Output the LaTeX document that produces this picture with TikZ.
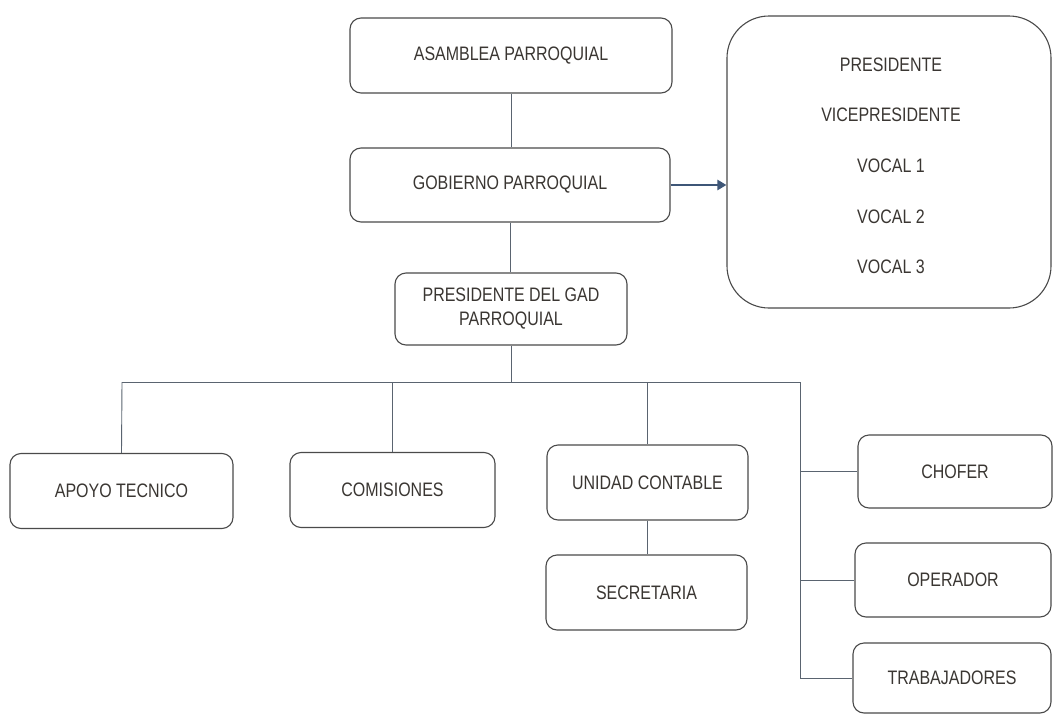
\documentclass[tikz,border=0pt]{standalone}
\usepackage{fontspec}
\setmainfont{Liberation Sans}[FakeStretch=0.82]
\usetikzlibrary{arrows.meta}
\definecolor{ink}{HTML}{3A3632}
\definecolor{edge}{HTML}{4A4A4A}
\definecolor{conn}{HTML}{5A6470}
\definecolor{arr}{HTML}{3E5677}
\begin{document}
\begin{tikzpicture}[x=1pt,y=-1pt,
  box/.style={draw=edge, line width=1.1pt, rounded corners=11pt, align=center,
    text=ink, font=\fontsize{19.5}{24}\selectfont, inner sep=0pt},
  conn/.style={draw=conn, line width=0.9pt},
  lbl/.style={text=ink, font=\fontsize{19.5}{24}\selectfont}]
\useasboundingbox[fill=white] (0,0) rectangle (1053,715);
% top chain
\node[box, minimum width=322pt, minimum height=75pt] (asam) at (511,55.5) {ASAMBLEA PARROQUIAL};
\node[box, minimum width=320pt, minimum height=74pt] (gob) at (510,185) {GOBIERNO PARROQUIAL};
\node[box, minimum width=232pt, minimum height=72pt] (pres) at (511,309) {PRESIDENTE DEL GAD\\PARROQUIAL};
% council box
\node[draw=edge, line width=1.1pt, rounded corners=42pt, minimum width=324pt, minimum height=292pt] (cons) at (889,162) {};
\node[lbl] (c1) at (891,65) {PRESIDENTE};
\node[lbl] (c2) at (891,115) {VICEPRESIDENTE};
\node[lbl] (c3) at (891,166) {VOCAL 1};
\node[lbl] (c4) at (891,217) {VOCAL 2};
\node[lbl] (c5) at (891,267) {VOCAL 3};
% lower boxes
\node[box, minimum width=223pt, minimum height=75pt] (apoyo) at (121.5,491) {APOYO TECNICO};
\node[box, minimum width=205pt, minimum height=75pt] (comi) at (392.5,490) {COMISIONES};
\node[box, minimum width=201pt, minimum height=75pt] (unid) at (647.5,482.5) {UNIDAD CONTABLE};
\node[box, minimum width=201pt, minimum height=75pt] (secr) at (646.5,592.5) {SECRETARIA};
\node[box, minimum width=194pt, minimum height=73pt] (chof) at (955,471.5) {CHOFER};
\node[box, minimum width=196pt, minimum height=74pt] (oper) at (953,580) {OPERADOR};
\node[box, minimum width=198pt, minimum height=70pt] (trab) at (952,678) {TRABAJADORES};
% connectors
\coordinate (busL) at (122,382);
\coordinate (busR) at (800,382);
\draw[conn] (asam.south) -- (asam.south |- gob.north);
\draw[conn] (gob.south) -- (gob.south |- pres.north);
\draw[conn] (pres.south) -- (pres.south |- busL);
\draw[conn] (busL) -- (busR);
\draw[conn] (busL) -- (apoyo.north);
\draw[conn] (busL -| comi.north) -- (comi.north);
\draw[conn] (busL -| unid.north) -- (unid.north);
\draw[conn] (unid.south) -- (unid.south |- secr.north);
\draw[conn] (busR) -- (busR |- trab.west) -- (trab.west);
\draw[conn] (busR |- chof.west) -- (chof.west);
\draw[conn] (busR |- oper.west) -- (oper.west);
\draw[draw=arr, line width=2.6pt, -{Triangle[length=9pt,width=10pt]}] (gob.east) -- (gob.east -| cons.west);
\end{tikzpicture}
\end{document}
